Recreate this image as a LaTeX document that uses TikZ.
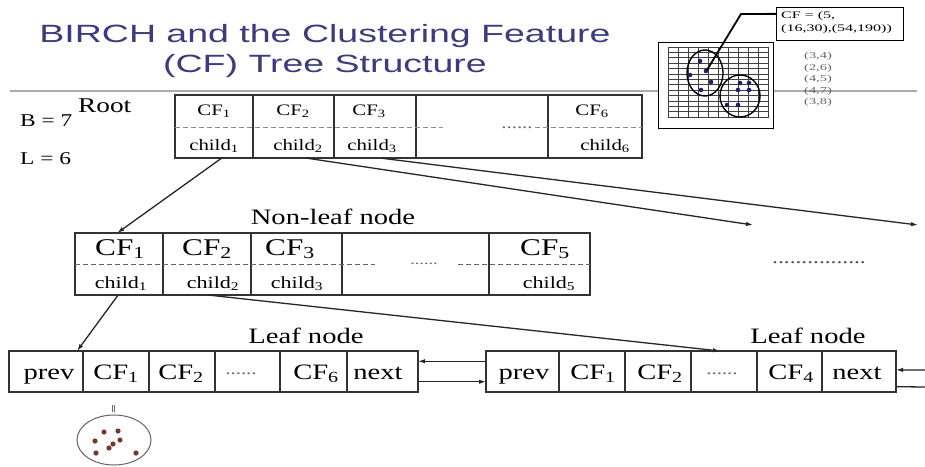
\documentclass[tikz,border=0pt]{standalone}
\usepackage{fontspec}
\setmainfont{Liberation Serif}[FakeStretch=1.3]
\newfontfamily\titlefont{Liberation Sans}[FakeStretch=1.5]
\newfontfamily\smallfont{Liberation Serif}[FakeStretch=1.6]
\usetikzlibrary{arrows.meta,calc,shapes.geometric}
\definecolor{titleblue}{RGB}{60,60,125}
\definecolor{rulegray}{RGB}{178,168,168}
\definecolor{dotbrown}{RGB}{120,55,45}
\definecolor{dotnavy}{RGB}{30,30,110}
\newcommand\fs[1]{\fontsize{#1}{#1}\selectfont}

\begin{document}
\begin{tikzpicture}[x=1pt,y=-1pt,
  cell/.style={draw=black!80, line width=1.1pt, inner sep=0pt, outer sep=0pt, anchor=north west},
  rtxt/.style={inner sep=0pt, anchor=base, font=\fs{16}},
  ntxt/.style={inner sep=0pt, anchor=base, font=\fs{24}},
  nchild/.style={inner sep=0pt, anchor=base, font=\fs{17}},
  ltxt/.style={inner sep=0pt, anchor=base, font=\fs{22}},
  lbl/.style={inner sep=0pt, anchor=base, font=\fs{22}},
  side/.style={inner sep=0pt, anchor=base west, font=\fs{18}},
  dotrow/.style={inner sep=0pt, anchor=base, text=black!60},
  link/.style={draw=black!85, line width=1.3pt, -{Latex[length=7pt,width=4.5pt]}},
  plain/.style={draw=black!85, line width=1.3pt},
  sepline/.style={draw=black!45, line width=1pt, dash pattern=on 5pt off 3pt},
  pt/.style={inner sep=0pt, anchor=base, font=\smallfont\fs{9}, text=black!60},
]
\useasboundingbox (0,0) rectangle (925,466);
\fill[white] (0,0) rectangle (925,466);

% ---- title and rule ----
\node[anchor=base, inner sep=0pt, text=titleblue, font=\titlefont\fs{25}] (title1) at (325,42) {BIRCH and the Clustering Feature};
\node[anchor=base, inner sep=0pt, text=titleblue, font=\titlefont\fs{25}] (title2) at (325,72) {(CF) Tree Structure};
\draw[rulegray, line width=1.6pt] (10,91) -- (917,91);

% ---- small example: grid with two clusters ----
\node[draw, line width=1.3pt, fill=white, minimum width=115pt, minimum height=86pt, inner sep=0pt, anchor=north west] (gridframe) at (658,42) {};
\foreach \i in {0,...,10} \draw[black!75, line width=0.7pt] ({668+10*\i},47) -- ({668+10*\i},118);
\foreach \j in {0,...,13} \draw[black!75, line width=0.7pt] (668,{47+5.4*\j}) -- (768,{47+5.4*\j});
\draw[line width=1.4pt] (705,73) ellipse [x radius=18, y radius=23];
\draw[line width=1.4pt] (740,96) ellipse [x radius=20, y radius=21];
\foreach \p in {(700,61),(690,75),(706,71),(711,82),(701,90),(740,83),(749,83),(738,90),(749,90),(727,105),(738,105)}
  \fill[dotnavy] \p circle[radius=2.3];
\node[draw, line width=1.3pt, fill=white, anchor=north west, minimum width=127pt, minimum height=33pt, inner sep=0pt] (cfbox) at (776,7) {};
\node[anchor=base west, inner sep=0pt, font=\smallfont\fs{10}] (cfline1) at (781,18) {CF = (5,};
\node[anchor=base west, inner sep=0pt, font=\smallfont\fs{10}] (cfline2) at (781,31) {(16,30),(54,190))};
\coordinate (cfpoint) at (707,70);
\draw[line width=1.8pt] ($(cfbox.north west)!0.2!(cfbox.south west)$) -- (741,14) -- (cfpoint);
\node[pt] (p1) at (818,58) {(3,4)};
\node[pt] (p2) at (818,70) {(2,6)};
\node[pt] (p3) at (818,81) {(4,5)};
\node[pt] (p4) at (818,93) {(4,7)};
\node[pt] (p5) at (818,104) {(3,8)};

% ---- parameters ----
\node[side] (bval) at (20,126) {B = 7};
\node[side] (lval) at (20,164) {L = 6};
\node[inner sep=0pt, anchor=base west, font=\fs{21}] (rootlbl) at (78,112) {Root};

% ---- root node ----
\node[cell, minimum width=78pt, minimum height=63pt] (rc1) at (175,95) {};
\node[cell, minimum width=81pt, minimum height=63pt] (rc2) at (253,95) {};
\node[cell, minimum width=82pt, minimum height=63pt] (rc3) at (334,95) {};
\node[cell, minimum width=132pt, minimum height=63pt] (rc4) at (416,95) {};
\node[cell, minimum width=94pt, minimum height=63pt] (rc5) at (548,95) {};
\draw[sepline] (175,127) -- (443,127);
\draw[sepline] (535,127) -- (642,127);
\node[dotrow, font=\fs{16}] (rdots) at (517,128) {......};
\node[rtxt] (rcf1) at (214,115) {CF\textsubscript{1}};
\node[rtxt] (rcf2) at (293,115) {CF\textsubscript{2}};
\node[rtxt] (rcf3) at (369,115) {CF\textsubscript{3}};
\node[rtxt] (rcf6) at (592,115) {CF\textsubscript{6}};
\node[rtxt] (rch1) at (214,150) {child\textsubscript{1}};
\node[rtxt] (rch2) at (298,150) {child\textsubscript{2}};
\node[rtxt] (rch3) at (372,150) {child\textsubscript{3}};
\node[rtxt] (rch6) at (605,150) {child\textsubscript{6}};

% ---- non-leaf node ----
\node[lbl] (nonleaflbl) at (333,224) {Non-leaf node};
\node[cell, minimum width=88pt, minimum height=62pt] (nc1) at (75,233) {};
\node[cell, minimum width=88pt, minimum height=62pt] (nc2) at (163,233) {};
\node[cell, minimum width=91pt, minimum height=62pt] (nc3) at (251,233) {};
\node[cell, minimum width=147pt, minimum height=62pt] (nc4) at (342,233) {};
\node[cell, minimum width=101pt, minimum height=62pt] (nc5) at (489,233) {};
\draw[sepline, draw=black!60] (75,264) -- (375,264);
\draw[sepline, draw=black!60] (458,264) -- (590,264);
\node[dotrow, font=\fs{14}] (ndots) at (424,264) {......};
\node[ntxt] (ncf1) at (120,255) {CF\textsubscript{1}};
\node[ntxt] (ncf2) at (207,255) {CF\textsubscript{2}};
\node[ntxt] (ncf3) at (290,255) {CF\textsubscript{3}};
\node[ntxt] (ncf5) at (545,255) {CF\textsubscript{5}};
\node[nchild] (nch1) at (121,288) {child\textsubscript{1}};
\node[nchild] (nch2) at (213,288) {child\textsubscript{2}};
\node[nchild] (nch3) at (297,288) {child\textsubscript{3}};
\node[nchild] (nch5) at (549,288) {child\textsubscript{5}};
\node[dotrow, font=\fs{18}, text=black!70] (moredots) at (819,263) {................};

% ---- first leaf node ----
\node[lbl] (leafalbl) at (306,343) {Leaf node};
\node[cell, minimum width=74pt, minimum height=41pt] (la1) at (9,351) {};
\node[cell, minimum width=66pt, minimum height=41pt] (la2) at (83,351) {};
\node[cell, minimum width=66pt, minimum height=41pt] (la3) at (149,351) {};
\node[cell, minimum width=65pt, minimum height=41pt] (la4) at (215,351) {};
\node[cell, minimum width=67pt, minimum height=41pt] (la5) at (280,351) {};
\node[cell, minimum width=71pt, minimum height=41pt] (la6) at (347,351) {};
\node[ltxt] (laprev) at (49,379) {prev};
\node[ltxt] (lacf1) at (116,379) {CF\textsubscript{1}};
\node[ltxt] (lacf2) at (181,379) {CF\textsubscript{2}};
\node[dotrow, font=\fs{16}] (ladots) at (241,374) {......};
\node[ltxt] (lacf6) at (316,379) {CF\textsubscript{6}};
\node[ltxt] (lanext) at (378,379) {next};

% ---- second leaf node ----
\node[lbl] (leafblbl) at (808,343) {Leaf node};
\node[cell, minimum width=73pt, minimum height=41pt] (lb1) at (486,351) {};
\node[cell, minimum width=66pt, minimum height=41pt] (lb2) at (559,351) {};
\node[cell, minimum width=66pt, minimum height=41pt] (lb3) at (625,351) {};
\node[cell, minimum width=66pt, minimum height=41pt] (lb4) at (691,351) {};
\node[cell, minimum width=65pt, minimum height=41pt] (lb5) at (757,351) {};
\node[cell, minimum width=74pt, minimum height=41pt] (lb6) at (822,351) {};
\node[ltxt] (lbprev) at (524,379) {prev};
\node[ltxt] (lbcf1) at (593,379) {CF\textsubscript{1}};
\node[ltxt] (lbcf2) at (660,379) {CF\textsubscript{2}};
\node[dotrow, font=\fs{16}] (lbdots) at (722,374) {......};
\node[ltxt] (lbcf4) at (791,379) {CF\textsubscript{4}};
\node[ltxt] (lbnext) at (857,379) {next};

% ---- a single cluster behind CF1 ----
\node[rotate=90, inner sep=0pt, font=\fs{12}] (eqsign) at (115,409) {=};
\node[draw=black!60, line width=1pt, ellipse, minimum width=74pt, minimum height=50pt, inner sep=0pt] (cluster) at (114,440) {};
\foreach \p in {(104,432),(118,431),(95,441),(120,440),(113,444),(109,448),(96,453),(136,453)}
  \fill[dotbrown] \p circle[radius=2.6];

% ---- pointers ----
\coordinate (farA) at (753,225);
\coordinate (farB) at (918,225);
\draw[link] ($(rc1.south west)!0.6!(rc1.south east)$) -- ($(nc1.north west)!0.48!(nc1.north east)$);
\draw[link] ($(rc2.south west)!0.65!(rc2.south east)$) -- (farA);
\draw[link] ($(rc3.south west)!0.56!(rc3.south east)$) -- (farB);
\draw[link] ($(nc1.south west)!0.49!(nc1.south east)$) -- ($(la1.north west)!0.92!(la1.north east)$);
\draw[link] ($(nc2.south west)!0.51!(nc2.south east)$) -- ($(lb4.north west)!0.44!(lb4.north east)$);
% prev / next chain between leaves
\draw[link] ($(lb1.north west)!0.25!(lb1.south west)$) -- ($(la6.north east)!0.25!(la6.south east)$);
\draw[link] ($(la6.north east)!0.75!(la6.south east)$) -- ($(lb1.north west)!0.75!(lb1.south west)$);
\coordinate (edgeIn) at (925,370);
\coordinate (edgeOut) at (925,387);
\draw[link] (edgeIn) -- ($(lb6.north east)!0.46!(lb6.south east)$);
\draw[plain] ($(lb6.north east)!0.87!(lb6.south east)$) -- (edgeOut);
\end{tikzpicture}
\end{document}
